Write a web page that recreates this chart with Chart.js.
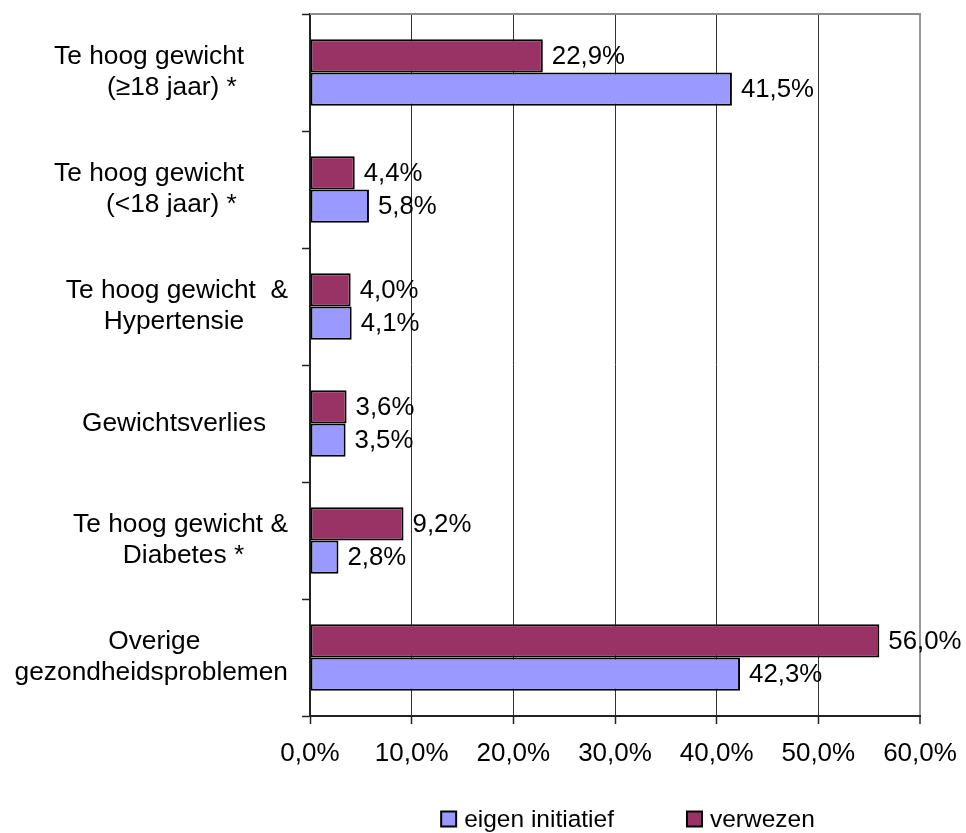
<!DOCTYPE html>
<html>
<head>
<meta charset="utf-8">
<script src="https://cdn.jsdelivr.net/npm/chart.js@4/dist/chart.umd.min.js"></script>
<style>
  html, body { margin: 0; padding: 0; background: #ffffff; }
  canvas { display: block; }
</style>
</head>
<body>
<canvas id="chart" width="966" height="833"></canvas>
<script>
// Category labels (multi-line); trailing spaces nudge lines to the left of the right-aligned block
const categories = [
  ['Te hoog gewicht      ', '(≥18 jaar) *       '],
  ['Te hoog gewicht      ', '(<18 jaar) *       '],
  ['Te hoog gewicht  &', 'Hypertensie      '],
  ['Gewichtsverlies   '],
  ['Te hoog gewicht &', 'Diabetes *      '],
  ['Overige            ', 'gezondheidsproblemen']
];

// Percentages per category
const verwezen = [22.9, 4.4, 4.0, 3.6, 9.2, 56.0];
const eigenInitiatief = [41.5, 5.8, 4.1, 3.5, 2.8, 42.3];

// Value axis ticks
const xTicks = [0, 10, 20, 30, 40, 50, 60];

const seriesNames = { verwezen: 'verwezen', eigen: 'eigen initiatief' };
const colors = { verwezen: '#993366', eigen: '#9999FF' };

const FONT = '"Liberation Sans", Arial, Helvetica, sans-serif';

const fmtPct = v => v.toFixed(1).replace('.', ',') + '%';

// Value labels at the end of each bar
const valueLabels = {
  id: 'valueLabels',
  afterDatasetsDraw(chart) {
    const ctx = chart.ctx;
    ctx.save();
    ctx.font = '25.8px ' + FONT;
    ctx.fillStyle = '#000';
    ctx.textAlign = 'left';
    ctx.textBaseline = 'middle';
    chart.data.datasets.forEach((ds, di) => {
      chart.getDatasetMeta(di).data.forEach((bar, i) => {
        ctx.fillText(fmtPct(ds.data[i]), bar.x + 9, bar.y + 1);
      });
    });
    ctx.restore();
  }
};

// Grey frame on the top edge of the plot area
const plotFrame = {
  id: 'plotFrame',
  beforeDatasetsDraw(chart) {
    const { ctx, chartArea: a } = chart;
    ctx.save();
    ctx.strokeStyle = '#8c8c8c';
    ctx.lineWidth = 2;
    ctx.beginPath();
    ctx.moveTo(a.left, a.top);
    ctx.lineTo(a.right + 1, a.top);
    ctx.stroke();
    ctx.restore();
  }
};

// Legend below the axis: eigen initiatief first, then verwezen
const bottomLegend = {
  id: 'bottomLegend',
  afterDraw(chart) {
    const ctx = chart.ctx;
    const order = [1, 0];
    const box = 15, textGap = 8, itemGap = 73;
    ctx.save();
    ctx.font = '24.5px ' + FONT;
    ctx.textBaseline = 'middle';
    ctx.textAlign = 'left';
    const widths = order.map(di => box + textGap + ctx.measureText(chart.data.datasets[di].label).width);
    const total = widths.reduce((s, w) => s + w, 0) + itemGap * (order.length - 1);
    const a = chart.chartArea;
    let x = (a.left + a.right) / 2 + 13 - total / 2;
    const cy = 819;
    order.forEach((di, k) => {
      const ds = chart.data.datasets[di];
      ctx.fillStyle = ds.backgroundColor;
      ctx.fillRect(x, cy - box / 2, box, box);
      ctx.strokeStyle = '#000';
      ctx.lineWidth = 2;
      ctx.strokeRect(x, cy - box / 2, box, box);
      ctx.fillStyle = '#000';
      ctx.fillText(ds.label, x + box + textGap, cy + 1);
      x += widths[k] + itemGap;
    });
    ctx.restore();
  }
};

new Chart(document.getElementById('chart'), {
  type: 'bar',
  data: {
    labels: categories,
    datasets: [
      {
        label: seriesNames.verwezen,
        data: verwezen,
        backgroundColor: colors.verwezen,
        borderColor: '#000',
        borderWidth: 2,
        borderSkipped: false,
        categoryPercentage: 0.57,
        barPercentage: 1.0
      },
      {
        label: seriesNames.eigen,
        data: eigenInitiatief,
        backgroundColor: colors.eigen,
        borderColor: '#000',
        borderWidth: 2,
        borderSkipped: false,
        categoryPercentage: 0.57,
        barPercentage: 1.0
      }
    ]
  },
  options: {
    indexAxis: 'y',
    responsive: false,
    animation: false,
    devicePixelRatio: 1,
    layout: { padding: { top: 14, right: 46, bottom: 57, left: 0 } },
    plugins: {
      legend: { display: false },
      tooltip: { enabled: false }
    },
    scales: {
      x: {
        min: xTicks[0],
        max: xTicks[xTicks.length - 1],
        afterBuildTicks(scale) {
          scale.ticks = xTicks.map(v => ({ value: v }));
        },
        afterFit(scale) {
          scale.height = 60;
          scale.paddingLeft = 0;
          scale.paddingRight = 0;
        },
        ticks: {
          callback: v => fmtPct(v),
          color: '#000',
          font: { family: FONT, size: 26 },
          padding: 14,
          maxRotation: 0
        },
        grid: {
          color: ctx => (ctx.tick && ctx.tick.value === 60 ? '#999999' : '#333333'),
          lineWidth: ctx => (ctx.tick && ctx.tick.value === 60 ? 2 : 1),
          tickColor: '#222',
          tickLength: 8,
          tickWidth: 1.5
        },
        border: { color: '#222', width: 2 }
      },
      y: {
        afterFit(scale) {
          scale.width = 310;
          scale.paddingTop = 0;
          scale.paddingBottom = 0;
        },
        ticks: {
          color: '#000',
          crossAlign: 'near',
          font: { family: FONT, size: 26.3, lineHeight: 1.19 },
          padding: 14
        },
        grid: {
          drawOnChartArea: false,
          color: '#222',
          tickLength: 8,
          tickWidth: 1.5
        },
        border: { color: '#222', width: 2 }
      }
    }
  },
  plugins: [plotFrame, valueLabels, bottomLegend]
});
</script>
</body>
</html>
